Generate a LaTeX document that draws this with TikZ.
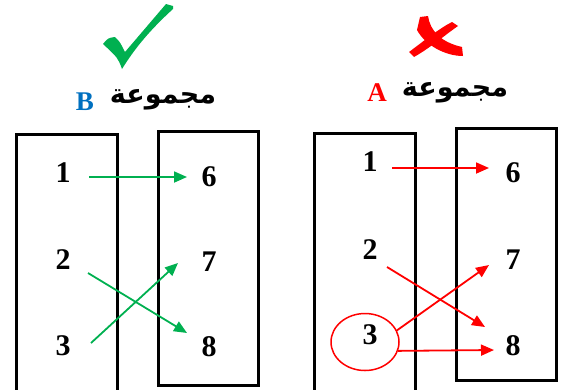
\documentclass[tikz,border=0pt]{standalone}
\usepackage{fontspec}
\setmainfont{Liberation Serif}
\newfontfamily\arabicfont[Script=Arabic]{DejaVu Sans}
\TeXXeTstate=1
\usetikzlibrary{arrows.meta,shapes.geometric,calc}
\definecolor{okgreen}{RGB}{0,176,80}
\definecolor{badred}{RGB}{255,0,0}
\definecolor{setblue}{RGB}{0,112,192}
\tikzset{
  setbox/.style={draw=black,line width=3.2pt},
  num/.style={font=\fontsize{30}{34}\selectfont\bfseries,inner sep=0pt},
  garr/.style={draw=okgreen,line width=1.8pt,-{Triangle[length=13pt,width=11pt]}},
  rarr/.style={draw=badred,line width=1.8pt,-{Triangle[length=13pt,width=11pt]}},
  ttl/.style={font=\fontsize{27}{30}\selectfont\bfseries,inner sep=0pt},
  arb/.style={font=\arabicfont\fontsize{27}{30}\selectfont\bfseries,inner sep=0pt}
}
\begin{document}
\begin{tikzpicture}[x=1pt,y=-1pt]
\useasboundingbox (0,0) rectangle (561,389);
\clip (0,0) rectangle (561,389);
% check mark
\fill[okgreen] (103,44) .. controls (108,38) .. (115,37) .. controls (120,42) .. (125,52)
  -- (166,4) -- (173,6) -- (173,9) .. controls (150,30) and (135,48) .. (122,69)
  .. controls (118,58) .. (103,44) -- cycle;
% cross
\fill[badred] (420,17) -- (428,16) .. controls (430,30) and (440,42) .. (462,47)
  -- (463,56) .. controls (445,56) and (425,45) .. (417,30) -- cycle;
\fill[badred] (452,22) -- (458,26) .. controls (445,35) and (430,48) .. (414,57)
  -- (409,52) .. controls (425,40) and (440,28) .. (452,22) -- cycle;
% titles
\node[ttl,text=setblue] (tB) at (85,102) {B};
\node[arb] (tB2) at (163,100) {\beginR مجموعة\endR};
\node[ttl,text=badred] (tA) at (377,93) {A};
\node[arb] (tA2) at (455,93) {\beginR مجموعة\endR};
% left panel boxes
\draw[setbox] (16.5,134.5) rectangle (117.5,400);
\draw[setbox] (158.5,131.5) rectangle (258.5,385.5);
% right panel boxes
\draw[setbox] (314.5,133.5) rectangle (415.5,400);
\draw[setbox] (456.5,128.5) rectangle (556.5,380.5);
% left panel numbers
\node[num] (b1) at (63,173) {1};
\node[num] (b2) at (63,260) {2};
\node[num] (b3) at (63,346) {3};
\node[num] (b6) at (209,177) {6};
\node[num] (b7) at (209,262) {7};
\node[num] (b8) at (209,347) {8};
% right panel numbers
\node[num] (a1) at (370,162) {1};
\node[num] (a2) at (370,250) {2};
\node[num] (a3) at (370,335) {3};
\node[num] (a6) at (513,173) {6};
\node[num] (a7) at (513,260) {7};
\node[num] (a8) at (513,346) {8};
\node[draw=badred,line width=1.5pt,ellipse,minimum width=68pt,minimum height=57pt,inner sep=0pt] (e3) at (365,342) {};
% left arrows
\draw[garr] ([shift={(26,4)}]b1.center) -- ([shift={(-22,0)}]b6.center);
\draw[garr] ([shift={(25,13)}]b2.center) -- ([shift={(-22,-14)}]b8.center);
\draw[garr] ([shift={(28,-3)}]b3.center) -- ([shift={(-31,1)}]b7.center);
% right arrows
\draw[rarr] ([shift={(22,6)}]a1.center) -- ([shift={(-24,-5)}]a6.center);
\draw[rarr] ([shift={(17,17)}]a2.center) -- ([shift={(-28,-19)}]a8.center);
\draw[rarr] (e3.20) -- ([shift={(-24,5)}]a7.center);
\draw[rarr] (e3.-15) -- ([shift={(-19,4)}]a8.center);
\end{tikzpicture}
\end{document}
